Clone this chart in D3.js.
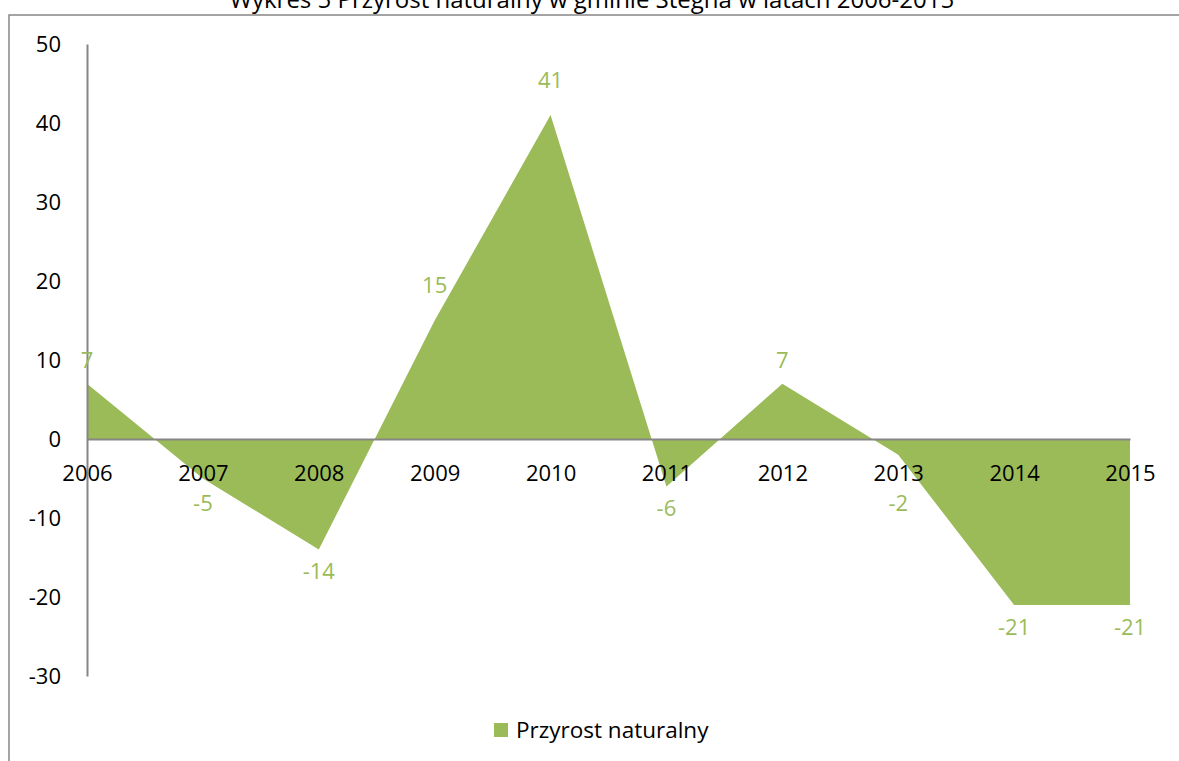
<!DOCTYPE html>
<html lang='pl'>
<head>
<meta charset='utf-8'/>
<title>Przyrost naturalny</title>
<script src='https://d3js.org/d3.v7.min.js'></script>
<style>
  body { margin: 0; background: #fff; }
  text { font-family: 'Open Sans', sans-serif; }
</style>
</head>
<body>
<script>
'use strict'
const years = ['2006', '2007', '2008', '2009', '2010', '2011', '2012', '2013', '2014', '2015']
const values = [7, -5, -14, 15, 41, -6, 7, -2, -21, -21]
const yTicks = [50, 40, 30, 20, 10, 0, -10, -20, -30]
const seriesName = 'Przyrost naturalny'
const title = 'Wykres 5 Przyrost naturalny w gminie Stegna w latach 2006-2015'

const W = 1179, H = 761
const green = '#9bbb59'
const grey = '#868686'

const svg = d3.select('body').append('svg')
  .attr('width', W)
  .attr('height', H)

// outer frame (runs off the right and bottom of the picture)
svg.append('rect')
  .attr('x', 9).attr('y', 15)
  .attr('width', W + 20).attr('height', H + 20)
  .attr('fill', 'none')
  .attr('stroke', grey)
  .attr('stroke-width', 1.5)

// title sits mostly above the visible area, as in the source
svg.append('text')
  .attr('x', 592).attr('y', 8)
  .attr('text-anchor', 'middle')
  .attr('font-size', 24)
  .attr('fill', '#000')
  .text(title)

const x = d3.scalePoint().domain(years).range([87, 1130])
const y = d3.scaleLinear().domain([-30, 50]).range([676, 44])

const area = d3.area()
  .x(function(d, i) { return x(years[i]) })
  .y0(y(0))
  .y1(function(d) { return y(d) })

svg.append('path')
  .datum(values)
  .attr('d', area)
  .attr('fill', green)

// y axis
const yAxis = svg.append('g')
  .attr('transform', 'translate(87,0)')
  .call(d3.axisLeft(y).tickValues(yTicks).tickSize(0).tickPadding(26)
    .tickFormat(function(d) { return String(d) }))
yAxis.select('.domain').attr('stroke', grey).attr('stroke-width', 2)
yAxis.selectAll('text')
  .attr('font-size', 22)
  .attr('fill', '#000')
  .attr('font-family', 'Open Sans, sans-serif')

// zero line + category labels
const xAxis = svg.append('g')
  .attr('transform', 'translate(0,' + y(0) + ')')
  .call(d3.axisBottom(x).tickSize(0).tickPadding(26))
xAxis.select('.domain').attr('stroke', grey).attr('stroke-width', 2)
xAxis.selectAll('text')
  .attr('font-size', 22)
  .attr('fill', '#000')
  .attr('font-family', 'Open Sans, sans-serif')

// data labels
svg.append('g').selectAll('text')
  .data(values)
  .join('text')
  .attr('x', function(d, i) { return x(years[i]) })
  .attr('y', function(d) {
    if (d >= 0) return y(d) - (d > 10 ? 35 : 23)
    return Math.max(y(d) + 22, y(0) + 64)
  })
  .attr('dy', '0.35em')
  .attr('text-anchor', 'middle')
  .attr('font-size', 22)
  .attr('fill', green)
  .text(function(d) { return String(d) })

// legend
const legend = svg.append('g').attr('transform', 'translate(494,723)')
legend.append('rect')
  .attr('width', 14).attr('height', 14)
  .attr('fill', green)
legend.append('text')
  .attr('x', 22).attr('y', 7)
  .attr('dy', '0.35em')
  .attr('font-size', 22.5)
  .attr('fill', '#000')
  .text(seriesName)
</script>
</body>
</html>
